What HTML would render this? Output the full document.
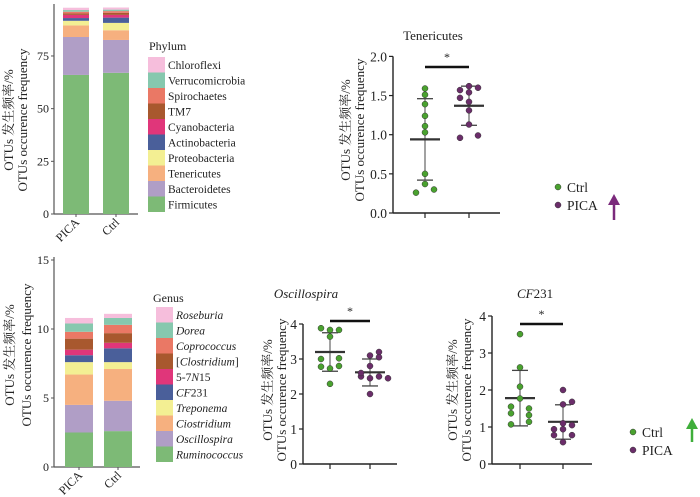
<!DOCTYPE html>
<html><head><meta charset="utf-8">
<style>
body{margin:0;background:#fff;width:700px;height:497px;overflow:hidden}
svg{display:block;font-family:"Liberation Serif","Noto Serif CJK SC",serif}
</style></head>
<body>
<svg id="s" width="700" height="497" viewBox="0 0 700 497"></svg>
<script>
// ---- data ----
const phylumNames=["Firmicutes","Bacteroidetes","Tenericutes","Proteobacteria","Actinobacteria","Cyanobacteria","TM7","Spirochaetes","Verrucomicrobia","Chloroflexi"];
const phylumPICA=[66,18,5.5,2.2,1.3,1.5,0.7,0.8,0.8,1.1];
const phylumCtrl=[67,15.6,4.6,3.5,2.5,1.3,1.0,0.8,0.7,1.0];
const phylumTicks=[0,25,50,75];
const genusNames=["Ruminococcus","Oscillospira","Ciostridium","Treponema","CF231","5-7N15","[Clostridium]","Coprococcus","Dorea","Roseburia"];
const genusPICA=[2.5,2.0,2.2,0.9,0.5,0.4,0.8,0.5,0.6,0.4];
const genusCtrl=[2.6,2.2,2.3,0.5,1.0,0.4,0.7,0.6,0.5,0.3];
const genusTicks=[0,5,10,15];
const stackColors=["#7dba76","#b09ec6","#f6b07f","#f3ef93","#4a5f9a","#e0367a","#a8582e","#ea7865","#86c8ae","#f6bedc"];
const tenCtrl=[1.59,1.51,1.39,1.24,1.11,1.03,0.50,0.37,0.26,0.30];
const tenPICA=[1.57,1.62,1.60,1.47,1.54,1.42,1.31,1.13,0.96,0.99];
const tenStats=[[0.94,1.46,0.42],[1.37,1.62,1.12]];
const tenTicks=[0,0.5,1.0,1.5,2.0];
const oscCtrl=[3.88,3.83,3.83,3.64,3.0,3.02,2.78,2.73,2.8,2.29];
const oscPICA=[3.1,3.2,3.05,2.8,2.5,2.45,2.5,2.45,2.0,2.6];
const oscStats=[[3.2,3.75,2.65],[2.62,3.0,2.23]];
const cfCtrl=[3.51,2.61,2.09,1.77,1.55,1.5,1.37,1.32,1.07,1.14];
const cfPICA=[2.0,1.68,1.61,1.1,1.05,0.94,0.94,0.78,0.78,0.59];
const cfStats=[[1.78,2.53,1.03],[1.14,1.6,0.67]];
const intTicks=[0,1,2,3,4];
// ---- helpers ----
const S=document.getElementById('s');const NS='http://www.w3.org/2000/svg';
function el(t,a,p){const e=document.createElementNS(NS,t);for(const k in a)e.setAttribute(k,a[k]);(p||S).appendChild(e);return e;}
function txt(x,y,s,a,p){const e=el('text',Object.assign({x:x,y:y,'font-size':12,fill:'#222'},a||{}),p);e.textContent=s;return e;}
function ylab(x,y,sz,gap){const g=el('g',{transform:`translate(${x},${y}) rotate(-90)`});

txt(0,0,'OTUs 发生频率/%',{'text-anchor':'middle','font-size':sz},g);txt(0,gap,'OTUs occurence frequency',{'text-anchor':'middle','font-size':sz},g);}
function stacked(cfg){
 const y=v=>cfg.y0-(v-0)*cfg.k;
 const g=el('g',{});
 el('line',{x1:cfg.ax,y1:cfg.top,x2:cfg.ax,y2:cfg.y0,stroke:'#555','stroke-width':1.2},g);
 el('line',{x1:cfg.ax,y1:cfg.y0,x2:cfg.axEnd,y2:cfg.y0,stroke:'#555','stroke-width':1.2},g);
 cfg.ticks.forEach(t=>{el('line',{x1:cfg.ax-3,x2:cfg.ax,y1:y(t),y2:y(t),stroke:'#555'},g);
  const tt=txt(cfg.ax-5,y(t)+4,String(t),{'text-anchor':'end','font-size':12},g);});
 [[cfg.a,cfg.xa,'PICA'],[cfg.b,cfg.xb,'Ctrl']].forEach(([vals,x,lab])=>{
  let c=0;vals.forEach((v,i)=>{const r=el('rect',{x:x,y:y(c+v),width:cfg.w,height:v*cfg.k,fill:stackColors[i]},g);
   c+=v;});
  el('line',{x1:x+cfg.w/2,x2:x+cfg.w/2,y1:cfg.y0,y2:cfg.y0+3,stroke:'#555'},g);
  const t=txt(x+cfg.w/2+4,cfg.y0+9,lab,{'text-anchor':'end','font-size':12,transform:`rotate(-45 ${x+cfg.w/2+4} ${cfg.y0+9})`},g);
  });
 const lg=el('g',{});
 txt(cfg.lx,cfg.ly,cfg.title,{'font-size':12},lg);
 for(let i=0;i<10;i++){const yy=cfg.ly+cfg.lo+i*15.5;const idx=9-i;
  const e=el('g',{},lg);
  el('rect',{x:cfg.sx,y:yy,width:17,height:15.5,fill:stackColors[idx]},e);
  const n=cfg.names[idx];
  const t=txt(cfg.sx+20,yy+12,'',{'font-size':11.5},e);
  if(cfg.italic){ if(n==='CF231'){t.innerHTML='<tspan font-style="italic">CF</tspan>231';}
   else if(n==='5-7N15'){t.innerHTML='5-7<tspan font-style="italic">N</tspan>15';}
   else if(n==='[Clostridium]'){t.innerHTML='[<tspan font-style="italic">Clostridium</tspan>]';}
   else {t.textContent=n;t.setAttribute('font-style','italic');}}
  else t.textContent=n;}
}
function scatter(cfg){
 const y=v=>cfg.y0-v*cfg.k;
 const g=el('g',{});
 el('line',{x1:cfg.ax,y1:y(cfg.ticks[cfg.ticks.length-1]),x2:cfg.ax,y2:cfg.y0,stroke:'#222','stroke-width':1.4},g);
 el('line',{x1:cfg.ax,y1:cfg.y0,x2:cfg.axEnd,y2:cfg.y0,stroke:'#222','stroke-width':1.4},g);
 cfg.ticks.forEach(t=>{el('line',{x1:cfg.ax-4,x2:cfg.ax,y1:y(t),y2:y(t),stroke:'#222','stroke-width':1.2},g);
  const tt=txt(cfg.ax-6,y(t)+5,cfg.fmt(t),{'text-anchor':'end','font-size':13.5},g);});
 [[cfg.c,cfg.xc,'#4aa22f',cfg.stats[0],'ctrl'],[cfg.p,cfg.xp,'#6b2d6a',cfg.stats[1],'pica']].forEach(([vals,x,col,st,n])=>{
  el('line',{x1:x,x2:x,y1:cfg.y0,y2:cfg.y0+5,stroke:'#222','stroke-width':1.2},g);
  el('line',{x1:x,x2:x,y1:y(st[1]),y2:y(st[2]),stroke:'#444','stroke-width':1},g);
  el('line',{x1:x-8,x2:x+8,y1:y(st[1]),y2:y(st[1]),stroke:'#444','stroke-width':1.3},g);
  el('line',{x1:x-8,x2:x+8,y1:y(st[2]),y2:y(st[2]),stroke:'#444','stroke-width':1.3},g);
  el('line',{x1:x-15,x2:x+15,y1:y(st[0]),y2:y(st[0]),stroke:'#333','stroke-width':2.2},g);
  vals.forEach((v,i)=>{const d=cfg.dx[n][i];const c=el('circle',{cx:x+d*9,cy:y(v),r:3,fill:col,stroke:'#333','stroke-width':0.5},g);
   });});
 el('line',{x1:cfg.xc,x2:cfg.xp,y1:cfg.sig,y2:cfg.sig,stroke:'#111','stroke-width':2.4},g);
 txt((cfg.xc+cfg.xp)/2,cfg.sig-6,'*',{'text-anchor':'middle','font-size':12},g);
 const t=txt(cfg.tx,cfg.ty,'',{'text-anchor':'middle','font-size':13},g);t.innerHTML=cfg.title;
 
}
function legend(x,y,arrowCol,ax,ay1,ay2){
 const g=el('g',{});
 el('circle',{cx:x,cy:y,r:3,fill:'#4aa22f',stroke:'#333','stroke-width':0.5},g);txt(x+9,y+5,'Ctrl',{'font-size':13.5},g);
 el('circle',{cx:x,cy:y+18,r:3,fill:'#6b2d6a',stroke:'#333','stroke-width':0.5},g);txt(x+9,y+23,'PICA',{'font-size':13.5},g);
 const a=el('g',{});
 el('line',{x1:ax,x2:ax,y1:ay1,y2:ay2+6,stroke:arrowCol,'stroke-width':2.5},a);
 el('polygon',{points:`${ax-6},${ay2+9} ${ax+6},${ay2+9} ${ax},${ay2-2}`,fill:arrowCol},a);
}
// ---- build ----
stacked({name:'phylum-stacked-chart',ax:54,axEnd:138,y0:214,top:4,k:2.107,ticks:phylumTicks,a:phylumPICA,b:phylumCtrl,xa:63,xb:103,w:26,names:phylumNames,title:'Phylum',lx:149,ly:50,lo:7,sx:148,italic:false});
ylab(13,120,13,14);
stacked({name:'genus-stacked-chart',ax:54,axEnd:140,y0:467,top:257,k:13.8,ticks:genusTicks,a:genusPICA,b:genusCtrl,xa:65,xb:104,w:28,names:genusNames,title:'Genus',lx:153,ly:302,lo:5,sx:156,italic:true});
ylab(14,355,13,17);
scatter({name:'tenericutes-scatter',ax:393,axEnd:500,y0:213,k:78.3,ticks:tenTicks,fmt:t=>t.toFixed(1),c:tenCtrl,p:tenPICA,xc:425,xp:469,stats:tenStats,dx:{ctrl:[0,0,0,0,0,0,0,0,-1,1],pica:[-1,0,1,-1,0,0,0,0,-1,1]},sig:67,tx:433,ty:40,title:'Tenericutes'});
ylab(350,130,13,14);
scatter({name:'oscillospira-scatter',ax:303,axEnd:397,y0:464,k:35,ticks:intTicks,fmt:t=>String(t),c:oscCtrl,p:oscPICA,xc:330,xp:370,stats:oscStats,dx:{ctrl:[-1,0,1,0,-1,1,-1,0,1,0],pica:[0,1,1,0,-1,0,1,2,0,-1]},sig:321,tx:306,ty:298,title:'<tspan font-style="italic">Oscillospira</tspan>'});
ylab(272,390,13,14);
scatter({name:'cf231-scatter',ax:492,axEnd:592,y0:464,k:37,ticks:intTicks,fmt:t=>String(t),c:cfCtrl,p:cfPICA,xc:520,xp:563,stats:cfStats,dx:{ctrl:[0,0,0,0,-1,1,-1,1,-1,1],pica:[0,1,0,0,1,-1,0,-1,1,0]},sig:324,tx:535,ty:298,title:'<tspan font-style="italic">CF</tspan>231'});
ylab(457,390,13,14);
legend(558,187,'#7b2a7c',614,220,196);
legend(633,432,'#3fae3a',692,442,420);
</script>
</body></html>
